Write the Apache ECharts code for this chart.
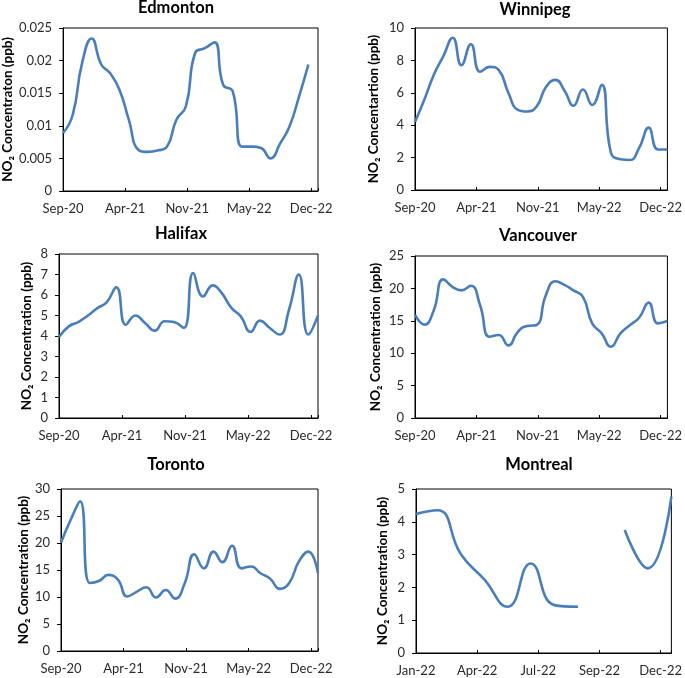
<!DOCTYPE html>
<html>
<head>
<meta charset="utf-8">
<script src="https://cdn.jsdelivr.net/npm/echarts@6/dist/echarts.min.js"></script>
<style>
html,body{margin:0;padding:0;background:#fff;}
#chart{width:685px;height:678px;}
</style>
</head>
<body>
<div id="chart"></div>
<script>
// ---- categories (month-end dates) ----
const monthsLong = ['2020-09','2020-10','2020-11','2020-12','2021-01','2021-02','2021-03','2021-04','2021-05','2021-06','2021-07','2021-08','2021-09','2021-10','2021-11','2021-12','2022-01','2022-02','2022-03','2022-04','2022-05','2022-06','2022-07','2022-08','2022-09','2022-10','2022-11','2022-12'];
const monthsMontreal = ['2022-01','2022-02','2022-03','2022-04','2022-05','2022-06','2022-07','2022-08','2022-09','2022-10','2022-11','2022-12'];

// ---- tick labels ----
const ticksLong = ['Sep-20','Apr-21','Nov-21','May-22','Dec-22'];
const ticksMontreal = ['Jan-22','Apr-22','Jul-22','Sep-22','Dec-22'];

// ---- series values (NO2, ppb) ----
const edmonton = [0.0089,0.0117,0.0196,0.0234,0.0194,0.0181,0.0155,0.0109,0.0063,0.0060,0.0062,0.0068,0.0109,0.0130,0.0212,0.0219,0.0228,0.0163,0.0153,0.0068,0.0068,0.0066,0.0050,0.0073,0.0099,0.0145,0.0194];
const winnipeg = [4.2,5.6,7.1,8.25,9.4,7.7,9.0,7.3,7.6,7.4,6.0,4.95,4.85,5.15,6.35,6.8,6.1,5.2,6.2,5.25,6.5,2.3,1.9,1.85,2.6,3.85,2.5,2.5];
const halifax = [3.95,4.47,4.68,5.0,5.37,5.64,6.37,4.55,5.0,4.63,4.26,4.72,4.68,4.39,7.07,5.93,6.47,6.1,5.37,4.96,4.2,4.75,4.39,4.07,5.28,7.0,4.07,5.0];
const vancouver = [15.9,14.4,16.6,21.4,20.2,19.7,20.4,17.4,12.55,12.8,11.2,13.3,14.2,14.35,18.95,21.1,20.5,19.7,18.7,14.6,13.06,11.0,13.06,14.35,15.47,17.8,14.6,14.96];
const toronto = [20.1,24.3,27.7,12.6,13.0,14.1,13.2,10.1,11.0,11.8,9.9,11.3,9.7,12.6,17.9,15.3,18.4,16.45,19.5,15.3,15.65,14.4,13.4,11.5,12.6,16.6,18.4,14.4];
const montreal = [4.24,4.35,3.0,2.25,1.41,2.73,1.46,1.41,null,3.75,2.58,4.77];

const DAY = 86400000;
function monthEnd(s){ const p = s.split('-'); return Date.UTC(+p[0], +p[1], 0); }
function toPairs(months, vals){
  const base = monthEnd(months[0]);
  return vals.map((v,i)=>[(monthEnd(months[i])-base)/DAY, v]);
}

const FONT = 'Lato, "DejaVu Sans", sans-serif';
const panels = [
  {title:'Edmonton', name:'NO₂ Concentraton (ppb)', data:toPairs(monthsLong, edmonton), ticks:ticksLong, step:200, xmax:822,
   grid:{left:61,top:28,width:257,height:163}, ymax:0.025, yint:0.005, tx:176, ty:-1, gap:48},
  {title:'Winnipeg', name:'NO₂ Concentartion (ppb)', data:toPairs(monthsLong, winnipeg), ticks:ticksLong, step:200, xmax:822,
   grid:{left:415,top:28,width:258,height:162}, ymax:10, yint:2, tx:535, ty:1, gap:34},
  {title:'Halifax', name:'NO₂ Concentration (ppb)', data:toPairs(monthsLong, halifax), ticks:ticksLong, step:200, xmax:822,
   grid:{left:59,top:254,width:259,height:164}, ymax:8, yint:1, tx:181, ty:225, gap:25},
  {title:'Vancouver', name:'NO₂ Concentration (ppb)', data:toPairs(monthsLong, vancouver), ticks:ticksLong, step:200, xmax:822,
   grid:{left:415,top:256,width:258,height:162}, ymax:25, yint:5, tx:538, ty:227, gap:32},
  {title:'Toronto', name:'NO₂ Concentration (ppb)', data:toPairs(monthsLong, toronto), ticks:ticksLong, step:200, xmax:822,
   grid:{left:61,top:489,width:257,height:162}, ymax:30, yint:5, tx:176, ty:456, gap:30},
  {title:'Montreal', name:'NO₂ Concentration (ppb)', data:toPairs(monthsMontreal, montreal), ticks:ticksMontreal, step:80, xmax:334,
   grid:{left:416,top:489,width:258,height:164}, ymax:5, yint:1, tx:539, ty:456, gap:26}
];

const option = {
  animation:false,
  backgroundColor:'#fff',
  title:[], grid:[], xAxis:[], yAxis:[], series:[]
};

panels.forEach((p,i)=>{
  option.title.push({text:p.title, left:p.tx, top:p.ty, textAlign:'center', padding:0,
    textStyle:{fontFamily:FONT, fontWeight:'bold', fontSize:16.5, color:'#000'}});
  option.grid.push(Object.assign({show:true, borderColor:'#000', borderWidth:1, backgroundColor:'transparent', containLabel:false}, p.grid));
  option.xAxis.push({type:'value', gridIndex:i, min:0, max:p.xmax, interval:p.step,
    axisLine:{show:true, lineStyle:{color:'#000', width:1}},
    axisTick:{show:true, inside:true, length:3, lineStyle:{color:'#000'}},
    splitLine:{show:false},
    axisLabel:{fontFamily:FONT, fontSize:13, color:'#2a2a2a', margin:11,
      formatter:(v)=>{ const k = Math.round(v/p.step); return (Math.abs(v - k*p.step) < 1e-6 && p.ticks[k]) ? p.ticks[k] : ''; }}
  });
  option.yAxis.push({type:'value', gridIndex:i, min:0, max:p.ymax, interval:p.yint,
    name:p.name, nameLocation:'middle', nameGap:p.gap, nameRotate:90,
    nameTextStyle:{fontFamily:FONT, fontWeight:'bold', fontSize:13.5, color:'#000'},
    axisLine:{show:true, lineStyle:{color:'#000', width:1}},
    axisTick:{show:true, inside:false, length:4, lineStyle:{color:'#000'}},
    splitLine:{show:false},
    axisLabel:{fontFamily:FONT, fontSize:13, color:'#2a2a2a', margin:11}
  });
  option.series.push({type:'line', xAxisIndex:i, yAxisIndex:i, data:p.data, smooth:0.5,
    showSymbol:false, connectNulls:false, lineStyle:{color:'#4A7EBB', width:2.6}, itemStyle:{color:'#4A7EBB'}});
});

const chart = echarts.init(document.getElementById('chart'), null, {renderer:'canvas'});
chart.setOption(option);
</script>
</body>
</html>
